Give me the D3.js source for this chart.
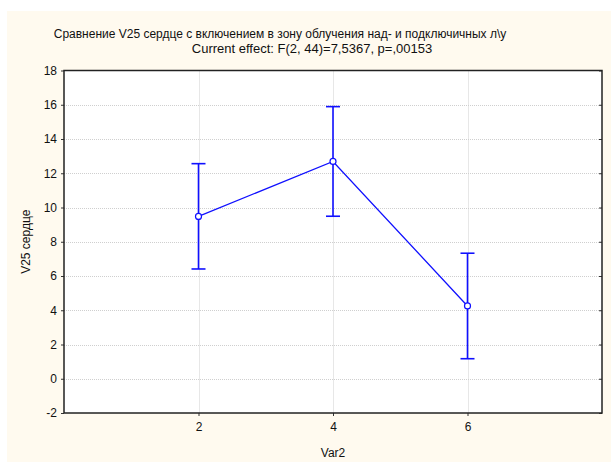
<!DOCTYPE html>
<html><head><meta charset="utf-8">
<script src="https://cdn.jsdelivr.net/npm/d3@7/dist/d3.min.js"></script>
<style>
body{margin:0;background:#fff;}
text{font-family:"Liberation Sans",Arial,sans-serif;fill:#111;}
</style></head>
<body><svg id="c" width="611" height="462"></svg>
<script>
const categories = [2, 4, 6];
const means = [9.48, 12.69, 4.25];
const lower = [6.41, 9.49, 1.17];
const upper = [12.56, 15.89, 7.33];
const yTicks = [-2, 0, 2, 4, 6, 8, 10, 12, 14, 16, 18];
const xTicks = [2, 4, 6];
const title1 = "Сравнение V25 сердце с включением в зону облучения над- и подключичных л\\у";
const title2 = "Current effect: F(2, 44)=7,5367, p=,00153";

const svg = d3.select("#c");
svg.append("rect").attr("x",7).attr("y",11).attr("width",604).attr("height",451).attr("fill","#FFFAEF");

const L=64, R=602, T=70.5, B=413;
const x = d3.scaleLinear().domain([0,8]).range([L,R]);
const y = d3.scaleLinear().domain([-2,18]).range([B,T]);

svg.append("rect").attr("x",L).attr("y",T).attr("width",R-L).attr("height",B-T).attr("fill","#fff");

// grid
const g = svg.append("g");
g.selectAll(".gy").data(yTicks.filter(d=>d>-2&&d<18)).join("line")
 .attr("x1",L).attr("x2",R).attr("y1",d=>Math.round(y(d))+0.5).attr("y2",d=>Math.round(y(d))+0.5)
 .attr("stroke","#cfcfcf").attr("stroke-dasharray","1,1");
g.selectAll(".gx").data(xTicks).join("line")
 .attr("y1",T).attr("y2",B).attr("x1",d=>Math.round(x(d))+0.5).attr("x2",d=>Math.round(x(d))+0.5)
 .attr("stroke","#cfcfcf").attr("stroke-dasharray","1,1");

// axes
const fmt = d => String(d);
const ax = svg.append("g").attr("transform",`translate(0,${B})`)
 .call(d3.axisBottom(x).tickValues(xTicks).tickFormat(fmt).tickSize(3).tickPadding(6));
const ay = svg.append("g").attr("transform",`translate(${L},0)`)
 .call(d3.axisLeft(y).tickValues(yTicks).tickFormat(fmt).tickSize(3).tickPadding(4));
const ar = svg.append("g").attr("transform",`translate(${R},0)`)
 .call(d3.axisLeft(y).tickValues(yTicks).tickSize(3).tickFormat(""));
[ax,ay,ar].forEach(a=>{a.select(".domain").remove();a.selectAll("line").attr("stroke","#333");
 a.selectAll("text").style("font-size","12px").style("font-family","Liberation Sans, Arial, sans-serif").attr("fill","#111");});

svg.append("rect").attr("x",L).attr("y",T).attr("width",R-L).attr("height",B-T)
 .attr("fill","none").attr("stroke","#222").attr("stroke-width",1.5);

// error bars
const blue="#1010ff";
const eb = svg.append("g").attr("stroke",blue).attr("stroke-width",1.6);
categories.forEach((c,i)=>{
  const cx=x(c);
  eb.append("line").attr("x1",cx).attr("x2",cx).attr("y1",y(lower[i])).attr("y2",y(upper[i]));
  eb.append("line").attr("x1",cx-7).attr("x2",cx+7).attr("y1",y(lower[i])).attr("y2",y(lower[i]));
  eb.append("line").attr("x1",cx-7).attr("x2",cx+7).attr("y1",y(upper[i])).attr("y2",y(upper[i]));
});
svg.append("path").datum(categories.map((c,i)=>[c,means[i]]))
 .attr("d",d3.line().x(d=>x(d[0])).y(d=>y(d[1])))
 .attr("fill","none").attr("stroke",blue).attr("stroke-width",1.3);
svg.selectAll(".pt").data(categories).join("circle")
 .attr("cx",d=>x(d)).attr("cy",(d,i)=>y(means[i])).attr("r",3)
 .attr("fill","#fff").attr("stroke",blue).attr("stroke-width",1.2);

// titles
svg.append("text").attr("x",280).attr("y",38).attr("text-anchor","middle").style("font-size","12px").text(title1);
svg.append("text").attr("x",312).attr("y",53).attr("text-anchor","middle").style("font-size","13px").text(title2);
svg.append("text").attr("x",333).attr("y",457).attr("text-anchor","middle").style("font-size","12px").text("Var2");
svg.append("text").attr("transform",`translate(30,${(T+B)/2}) rotate(-90)`).attr("text-anchor","middle").style("font-size","12px").text("V25 сердце");
</script></body></html>
